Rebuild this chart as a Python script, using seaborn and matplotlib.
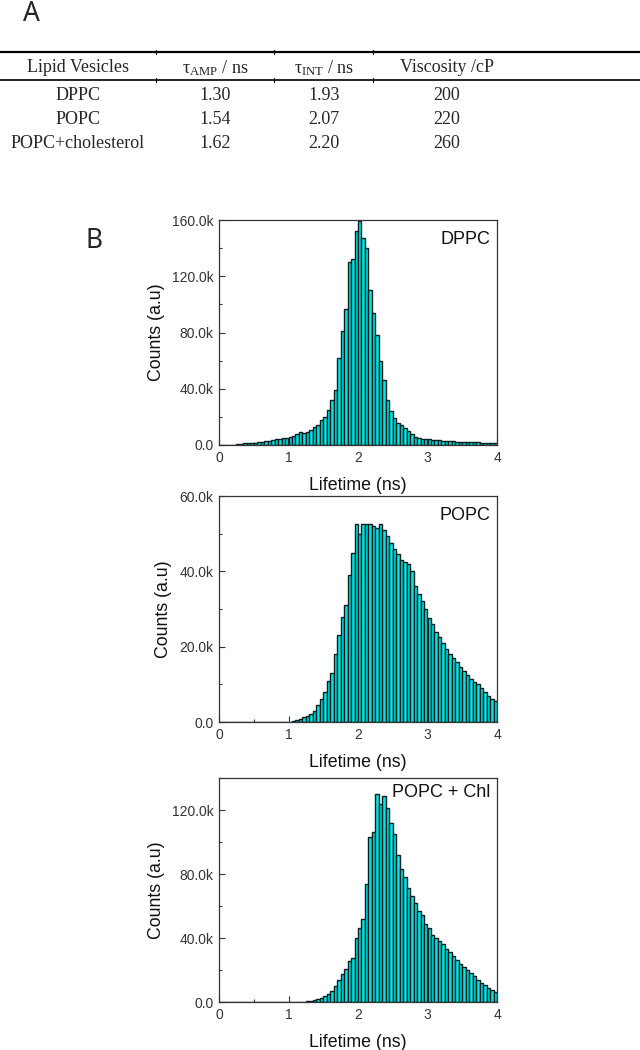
import numpy as np
import pandas as pd
import matplotlib
matplotlib.use("Agg")
import matplotlib.pyplot as plt
from matplotlib.lines import Line2D
from matplotlib.ticker import FuncFormatter, MultipleLocator
import seaborn as sns

# ---- data (panel A table) ----
table_header = ["Lipid Vesicles", r"$\mathrm{\tau_{AMP}}$ / ns", r"$\mathrm{\tau_{INT}}$ / ns", "Viscosity /cP"]
vesicles = ["DPPC", "POPC", "POPC+cholesterol"]
tau_amp = ["1.30", "1.54", "1.62"]
tau_int = ["1.93", "2.07", "2.20"]
viscosity = ["200", "220", "260"]

# ---- data (panel B histograms), counts in thousands, bins of 0.05 ns ----
lifetime_ns = np.round(np.arange(0.025, 4.0, 0.05), 3)

dppc_k = [0, 0, 0, 0, 0,
          0.8, 1.0, 1.1, 1.2, 1.4,
          1.6, 1.9, 2.2, 2.8, 3.2,
          3.8, 4.2, 4.6, 5.0, 5.2,
          5.4, 6.5, 8.0, 9.4, 8.2,
          9.6, 11, 12.5, 14, 17.5,
          20, 25, 32, 39, 62,
          81, 97, 130, 132, 152,
          159, 147, 140, 110, 94,
          78, 60, 46, 32, 24,
          19, 16, 14, 12, 10,
          8, 6, 5, 4.5, 4.2,
          4.0, 3.8, 3.6, 3.4, 3.2,
          3.0, 2.8, 2.6, 2.4, 2.3,
          2.2, 2.1, 2.0, 1.9, 1.8,
          1.7, 1.6, 1.6, 1.5, 1.5]

popc_k = [0] * 20 + [
          0.1, 0.3, 0.5, 0.8, 1.2,
          1.6, 2.2, 3.0, 4.4, 6.2,
          8.0, 11, 13, 18, 23,
          28, 31, 39, 45,
          52.5, 50, 52.5, 52.5, 52.5,
          52, 51.5, 52.5, 51, 49.5,
          47.5, 46, 44.5, 43, 42.5,
          42, 40, 36, 34, 32,
          30, 27.5, 26, 24, 22.5,
          21, 19.5, 18, 17, 16,
          14.5, 13.5, 12.5, 11.5, 10.5,
          10, 9, 8, 7, 6, 5.5]

popc_chl_k = [0] * 23 + [
          0.1, 0.2, 0.4, 0.8, 1.5,
          2.0, 2.5, 3.5, 5.0, 6.7,
          9.8, 14, 17.7, 20.6, 25.4,
          27.5, 40, 46, 52, 74,
          103, 106, 130, 124, 129,
          121, 112, 105, 92, 83,
          78, 71, 66, 62, 57,
          54.5, 49, 46, 42, 40,
          38, 36, 33, 31, 29,
          26, 24, 22, 20, 18,
          16, 14, 12, 10.5, 9,
          7.5, 6]

panels = [("DPPC", dppc_k, 160000, 40000, 0.95),
          ("POPC", popc_k, 60000, 20000, 0.95),
          ("POPC + Chl", popc_chl_k, 140000, 40000, 0.975)]

sns.set_style("ticks")
plt.rcParams["font.family"] = ["Liberation Sans", "DejaVu Sans"]
plt.rcParams["mathtext.fontset"] = "custom"
plt.rcParams["mathtext.rm"] = "Liberation Serif"
plt.rcParams["mathtext.it"] = "Liberation Serif:italic"

W, H = 640, 1050
fig = plt.figure(figsize=(6.4, 10.5), dpi=100)


def fy(y):
    return 1 - y / H


# ---- panel A ----
fig.text(23 / W, fy(14), "A", fontsize=19, family=["Noto Sans", "DejaVu Sans"], va="center", ha="left")

for y, lw in [(52, 1.6), (80, 1.2)]:
    fig.add_artist(Line2D([0, 1], [fy(y), fy(y)], color="black", lw=lw, transform=fig.transFigure))
    for xs in [156, 274, 373]:
        fig.add_artist(Line2D([xs / W, xs / W], [fy(y - 2), fy(y + 2)], color="black", lw=0.8,
                              transform=fig.transFigure))

col_x = [78, 215, 324, 447]
serif = ["Liberation Serif", "DejaVu Serif"]
for cx, label in zip(col_x, table_header):
    fig.text(cx / W, fy(68), label, fontsize=13, family=serif, ha="center", va="center")

for row, y in enumerate([95, 119, 144]):
    values = [vesicles[row], tau_amp[row], tau_int[row], viscosity[row]]
    for cx, v in zip(col_x, values):
        fig.text(cx / W, fy(y), v, fontsize=13, family=serif, ha="center", va="center")

# ---- panel B ----
fig.text(86 / W, fy(241), "B", fontsize=19, family=["Noto Sans", "DejaVu Sans"], va="center", ha="left")

axes_px = [(220, 445), (496, 722), (778, 1002)]


def kfmt(v, pos):
    return "0.0" if v == 0 else f"{v / 1000:.1f}k"


for (name, counts_k, ymax, ystep, label_y), (top, bottom) in zip(panels, axes_px):
    ax = fig.add_axes([219 / W, fy(bottom), 278 / W, (bottom - top) / H])
    df = pd.DataFrame({"lifetime": lifetime_ns, "counts": np.array(counts_k) * 1000})
    sns.histplot(data=df, x="lifetime", weights="counts", bins=80, binrange=(0, 4), ax=ax,
                 color="#00e6e6", edgecolor="#0b1f1f", linewidth=1.0, alpha=1)
    ax.set_xlim(0, 4)
    ax.set_ylim(0, ymax)
    ax.xaxis.set_major_locator(MultipleLocator(1))
    ax.xaxis.set_minor_locator(MultipleLocator(0.5))
    ax.yaxis.set_major_locator(MultipleLocator(ystep))
    ax.yaxis.set_minor_locator(MultipleLocator(ystep / 2))
    ax.yaxis.set_major_formatter(FuncFormatter(kfmt))
    ax.xaxis.set_major_formatter(FuncFormatter(lambda v, p: f"{v:.0f}"))
    ax.tick_params(which="both", direction="in", colors="#333333", labelsize=10, pad=4)
    ax.tick_params(which="major", length=4, width=0.8)
    ax.tick_params(which="minor", length=2.5, width=0.8)
    for s in ax.spines.values():
        s.set_visible(True)
        s.set_color("#333333")
        s.set_linewidth(0.9)
    ax.set_xlabel("Lifetime (ns)", fontsize=12.8, labelpad=9, color="#111111")
    ax.set_ylabel("Counts (a.u)", fontsize=12.8, labelpad=5, color="#111111")
    ax.text(0.975, label_y, name, transform=ax.transAxes, ha="right", va="top",
            fontsize=13, color="#111111")

fig.savefig("out.png", dpi=100)
